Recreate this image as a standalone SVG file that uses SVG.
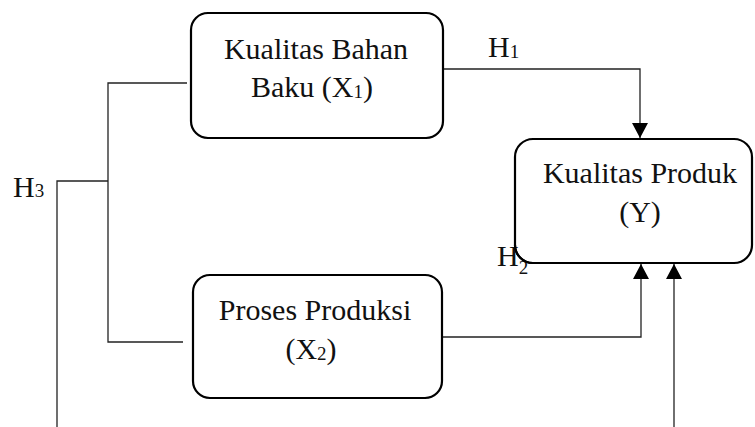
<svg xmlns="http://www.w3.org/2000/svg" width="755" height="427" viewBox="0 0 755 427">
  <style>
    .box { fill: #ffffff; stroke: #000000; stroke-width: 2.2; }
    .ln { fill: none; stroke: #222222; stroke-width: 1.3; }
    .t { font-family: "Liberation Serif", "Times New Roman", serif; font-size: 30px; fill: #111111; }
    .sub { font-size: 19px; }
  </style>
  <defs>
    <marker id="arrow" viewBox="0 0 15 16" refX="15" refY="8" markerWidth="15" markerHeight="16" markerUnits="userSpaceOnUse" orient="auto">
      <path d="M0,0 L15,8 L0,16 Z" fill="#000000"/>
    </marker>
  </defs>
  <rect width="755" height="427" fill="#ffffff"/>

  <g id="connectors">
    <!-- H1: X1 to Y -->
    <polyline class="ln" points="443,69 640,69 640,138" marker-end="url(#arrow)"/>
    <!-- H2: X2 to Y -->
    <polyline class="ln" points="442,337 641,337 641,264" marker-end="url(#arrow)"/>
    <!-- H3: joint path -->
    <line class="ln" x1="674" y1="427" x2="674" y2="264" marker-end="url(#arrow)"/>
    <polyline class="ln" points="187,83 108,83 108,342 183,342"/>
    <polyline class="ln" points="108,181 57,181 57,427"/>
  </g>

  <g id="node-x1">
    <rect class="box" x="191" y="13" width="252" height="125" rx="17"/>
    <text class="t" x="316" y="59" text-anchor="middle">Kualitas Bahan</text>
    <text class="t" x="312" y="97" text-anchor="middle">Baku (X<tspan class="sub" dy="1">1</tspan><tspan dy="-1">)</tspan></text>
  </g>

  <g id="node-x2">
    <rect class="box" x="193" y="275" width="249" height="123" rx="17"/>
    <text class="t" x="315" y="320" text-anchor="middle">Proses Produksi</text>
    <text class="t" x="311" y="359" text-anchor="middle">(X<tspan class="sub" dy="1">2</tspan><tspan dy="-1">)</tspan></text>
  </g>

  <g id="node-y">
    <rect class="box" x="515" y="139" width="237" height="124" rx="18"/>
    <text class="t" x="640" y="183" text-anchor="middle">Kualitas Produk</text>
    <text class="t" x="640" y="222" text-anchor="middle">(Y)</text>
  </g>

  <g id="labels">
    <text class="t" x="488" y="57">H<tspan class="sub" dy="1">1</tspan></text>
    <text class="t" x="497" y="266">H<tspan class="sub" dy="8">2</tspan></text>
    <text class="t" x="13" y="197">H<tspan class="sub" dy="0">3</tspan></text>
  </g>
  <!-- the Y box corner overlaps the H2 subscript -->
  <path d="M515,245 A18,18 0 0 0 533,263" fill="none" stroke="#000000" stroke-width="2.2"/>
</svg>
